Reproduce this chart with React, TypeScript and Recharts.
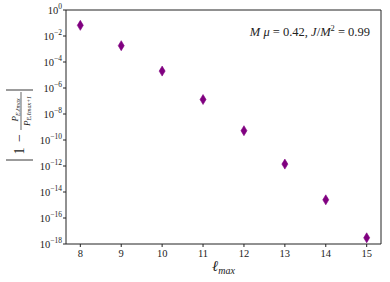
import { ScatterChart, Scatter, XAxis, YAxis } from "recharts";

const lmax = [8, 9, 10, 11, 12, 13, 14, 15];
const relDiff = [6.6e-2, 1.8e-3, 2.0e-5, 1.3e-7, 5.2e-10, 1.4e-12, 2.5e-15, 3.0e-18];
const xTicks = [8, 9, 10, 11, 12, 13, 14, 15];
const yTicks = [1, 1e-2, 1e-4, 1e-6, 1e-8, 1e-10, 1e-12, 1e-14, 1e-16, 1e-18];

const data = lmax.map((l, i) => ({ l, v: relDiff[i] }));

const serif = "'Liberation Serif', 'DejaVu Serif', serif";
const purple = "#800080";
const ink = "#222";

function Diamond(props: any) {
  const { cx, cy } = props;
  if (cx == null || cy == null) return null;
  return (
    <polygon
      points={`${cx},${cy - 5} ${cx + 3},${cy} ${cx},${cy + 5} ${cx - 3},${cy}`}
      fill={purple}
      stroke={purple}
      strokeWidth={0.6}
    />
  );
}

function YTick({ x, y, payload }: any) {
  const e = Math.round(Math.log10(payload.value));
  return (
    <text x={x} y={y + 3.5} textAnchor="end" fontFamily={serif} fontSize={10.5} fill={ink}>
      <tspan>10</tspan>
      <tspan dy={-5} fontSize={7.5}>{e === 0 ? "0" : `−${-e}`}</tspan>
    </text>
  );
}

function XTick({ x, y, payload }: any) {
  return (
    <text x={x} y={y + 8.5} textAnchor="middle" fontFamily={serif} fontSize={10.5} fill={ink}>
      {payload.value}
    </text>
  );
}

function XLabel({ viewBox }: any) {
  const cx = viewBox.x + viewBox.width / 2;
  return (
    <text x={cx} y={271} textAnchor="middle" fontFamily={serif} fontStyle="italic" fontSize={15} fill={ink}>
      <tspan>ℓ</tspan>
      <tspan dy={3} fontSize={10}>max</tspan>
    </text>
  );
}

function YLabel({ viewBox }: any) {
  const cx = 20;
  const cy = viewBox.y + viewBox.height / 2 - 2;
  return (
    <g transform={`translate(${cx},${cy}) rotate(-90)`} fontFamily={serif} fill={ink}>
      <line x1={-35} y1={-14} x2={-35} y2={13} stroke={ink} strokeWidth={0.9} />
      <line x1={35} y1={-14} x2={35} y2={13} stroke={ink} strokeWidth={0.9} />
      <text x={-26} y={4} textAnchor="middle" fontSize={14}>1</text>
      <text x={-13} y={4} textAnchor="middle" fontSize={14}>−</text>
      <line x1={-5} y1={1} x2={33} y2={1} stroke={ink} strokeWidth={0.7} />
      <text x={15} y={-2} textAnchor="middle" fontSize={9} fontStyle="italic">
        <tspan>P</tspan>
        <tspan dy={1.5} fontSize={6}>E,ℓmax</tspan>
      </text>
      <text x={14} y={9.5} textAnchor="middle" fontSize={9} fontStyle="italic">
        <tspan>P</tspan>
        <tspan dy={1.5} fontSize={6}>E,ℓmax+1</tspan>
      </text>
    </g>
  );
}

export default function App() {
  return (
    <div style={{ position: "absolute", left: 0, top: 0, width: 390, height: 282, background: "#fff" }}>
      <ScatterChart width={390} height={282} margin={{ top: 10, right: 9, bottom: 0, left: 10 }}>
        <XAxis
          dataKey="l"
          type="number"
          domain={[7.65, 15.35]}
          ticks={xTicks}
          allowDataOverflow
          height={38}
          tickSize={3}
          tickMargin={1}
          tick={<XTick />}
          stroke={ink}
          tickLine={{ stroke: ink }}
          axisLine={{ stroke: ink, strokeWidth: 1 }}
          label={<XLabel />}
        />
        <XAxis
          xAxisId="top"
          orientation="top"
          type="number"
          domain={[0, 1]}
          mirror
          tick={false}
          tickLine={false}
          axisLine={{ stroke: ink, strokeWidth: 1 }}
        />
        <YAxis
          dataKey="v"
          type="number"
          scale="log"
          domain={[1e-18, 1]}
          ticks={yTicks}
          allowDataOverflow
          width={56}
          tickSize={3}
          tickMargin={1}
          tick={<YTick />}
          stroke={ink}
          tickLine={{ stroke: ink }}
          axisLine={{ stroke: ink, strokeWidth: 1 }}
          label={<YLabel />}
        />
        <YAxis
          yAxisId="right"
          orientation="right"
          type="number"
          domain={[0, 1]}
          mirror
          tick={false}
          tickLine={false}
          axisLine={{ stroke: ink, strokeWidth: 1 }}
        />
        <Scatter data={data} shape={<Diamond />} isAnimationActive={false} />
      </ScatterChart>
      <svg width={390} height={282} style={{ position: "absolute", left: 0, top: 0, pointerEvents: "none" }}>
        <text x={370} y={36} textAnchor="end" fontFamily={serif} fontSize={12.5} fill={ink}>
          <tspan fontStyle="italic">M μ</tspan>
          <tspan> = 0.42, </tspan>
          <tspan fontStyle="italic">J</tspan>
          <tspan>/</tspan>
          <tspan fontStyle="italic">M</tspan>
          <tspan dy={-5} fontSize={8.5}>2</tspan>
          <tspan dy={5}> = 0.99</tspan>
        </text>
      </svg>
    </div>
  );
}
